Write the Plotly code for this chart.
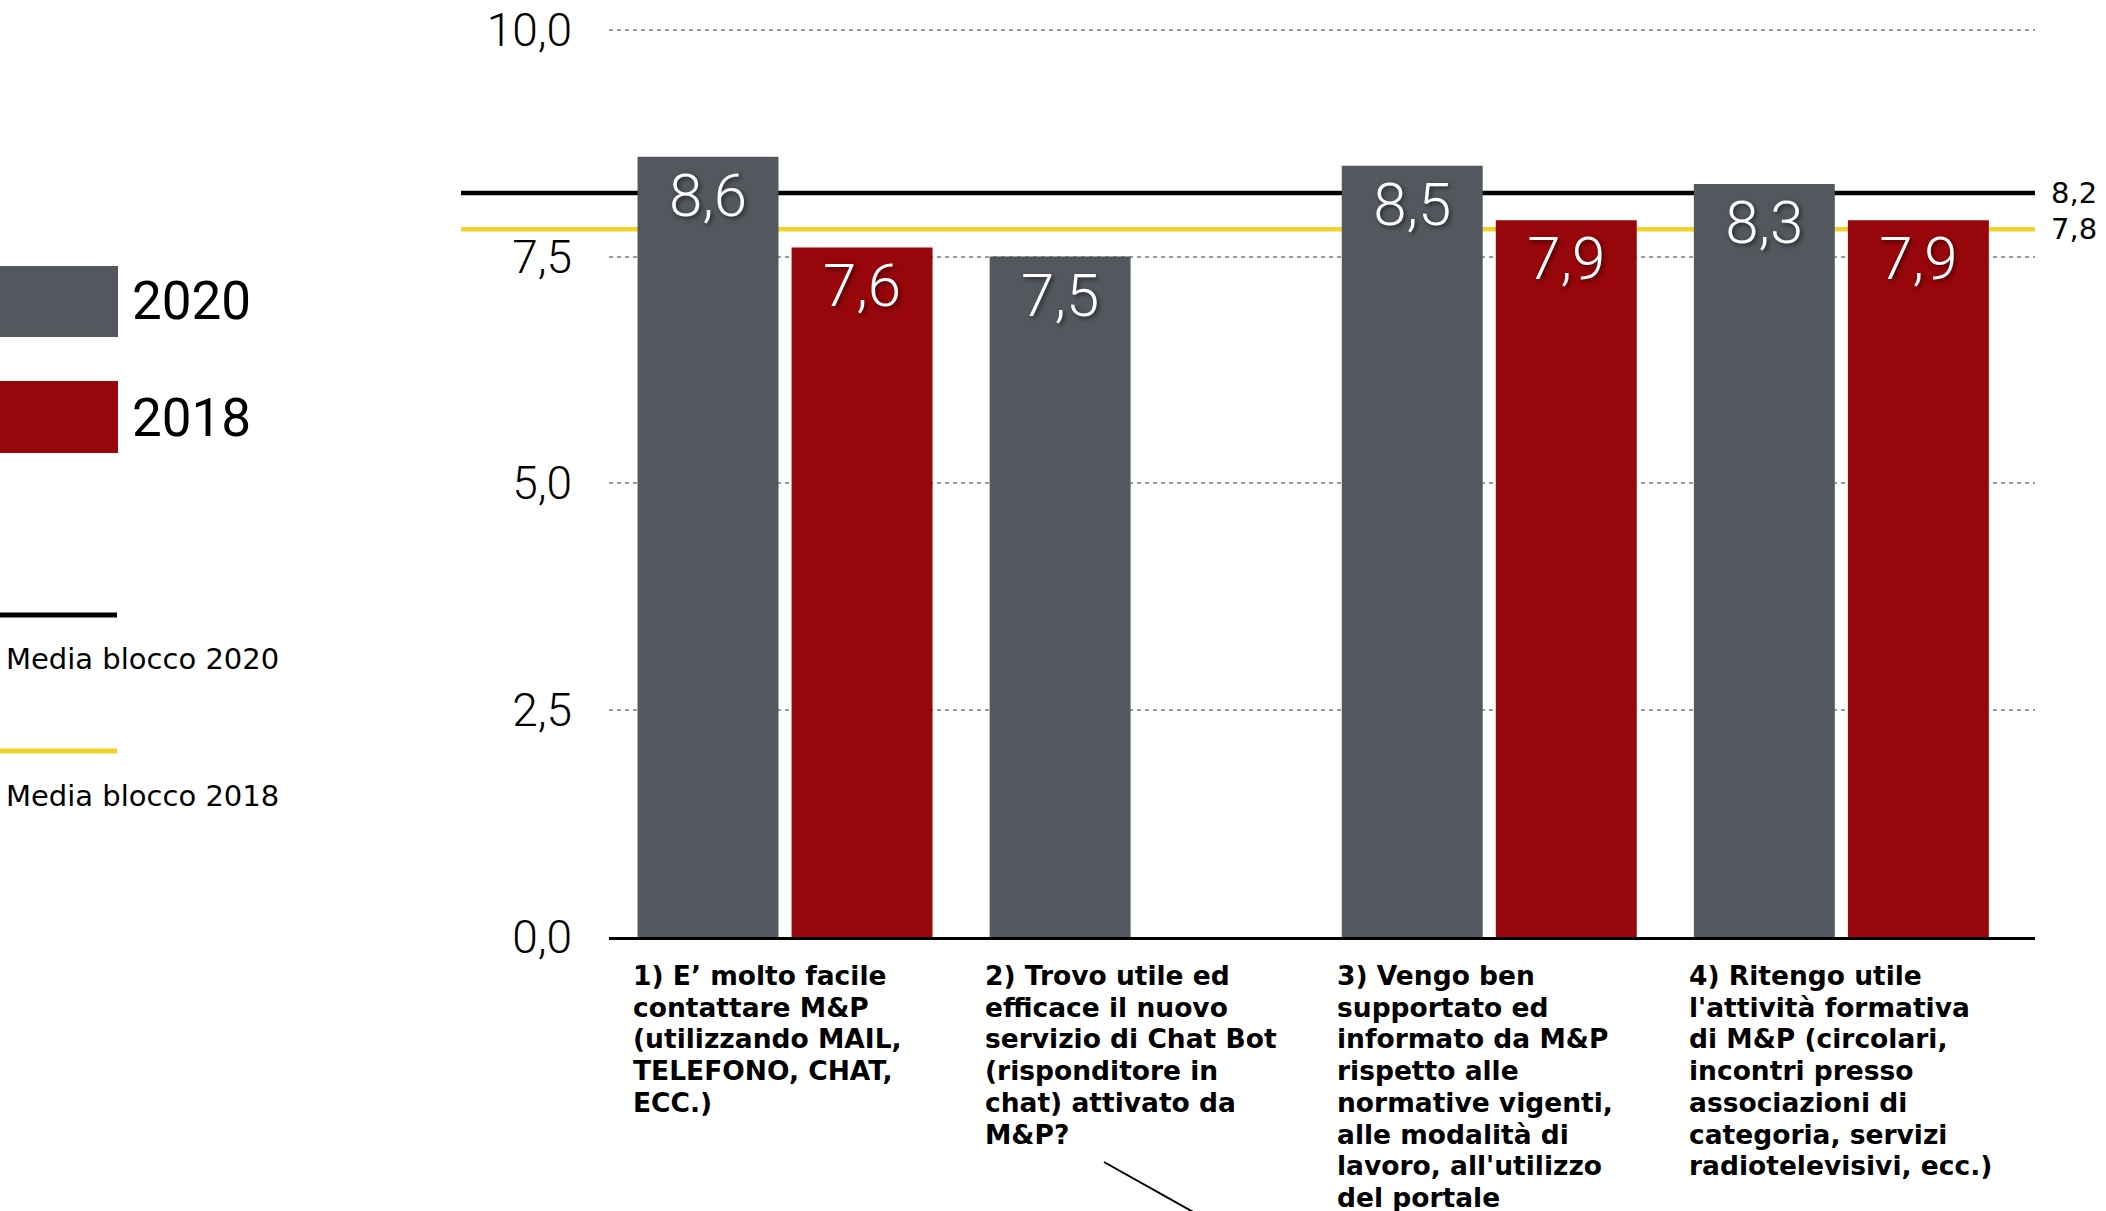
import plotly.graph_objects as go

# ---------------- data ----------------
categories = ["1)", "2)", "3)", "4)"]
values_2020 = [8.6, 7.5, 8.5, 8.3]
values_2018 = [7.6, None, 7.9, 7.9]
series_names = ["2020", "2018"]
mean_2020 = 8.2
mean_2018 = 7.8
mean_names = ["Media blocco 2020", "Media blocco 2018"]
y_ticks = [0, 2.5, 5, 7.5, 10]
category_labels = [
    ["1) E’ molto facile", "contattare M&P", "(utilizzando MAIL,", "TELEFONO, CHAT,", "ECC.)"],
    ["2) Trovo utile ed", "efficace il nuovo", "servizio di Chat Bot", "(risponditore in",
     "chat) attivato da", "M&P?"],
    ["3) Vengo ben", "supportato ed", "informato da M&P", "rispetto alle",
     "normative vigenti,", "alle modalità di", "lavoro, all'utilizzo", "del portale"],
    ["4) Ritengo utile", "l'attività formativa", "di M&P (circolari,", "incontri presso",
     "associazioni di", "categoria, servizi", "radiotelevisivi, ecc.)"],
]

# ---------------- styles ----------------
GRAY = "#53575E"
RED = "#97060A"
YELLOW = "#F3D22B"
W, H = 2106, 1211
L, R, T, B = 609, 71, 27, 274
PW, PH = W - L - R, H - T - B
Y_TOP = 10.03


def px_x(px):
    return (px - L) / PW


def px_y(py):
    return (H - B - py) / PH


bar_font = dict(family="Roboto", size=60, color="white", weight=300,
                shadow="2px 2px 4px rgba(0,0,0,0.55)")

fig = go.Figure()
fig.add_trace(go.Bar(
    x=categories, y=values_2020, name=series_names[0], marker_color=GRAY,
    marker_line_width=0,
    texttemplate="%{y:.1f}", textposition="inside", insidetextanchor="end",
    textangle=0, insidetextfont=bar_font, constraintext="none", hoverinfo="skip"))
fig.add_trace(go.Bar(
    x=categories, y=values_2018, name=series_names[1], marker_color=RED,
    marker_line_width=0,
    texttemplate="%{y:.1f}", textposition="inside", insidetextanchor="end",
    textangle=0, insidetextfont=bar_font, constraintext="none", hoverinfo="skip"))

shapes = []
annotations = []

# mean lines (behind bars)
for val, col in [(mean_2020, "black"), (mean_2018, YELLOW)]:
    shapes.append(dict(type="line", xref="paper", yref="y", x0=px_x(461), x1=1,
                       y0=val, y1=val, line=dict(color=col, width=4.5), layer="below"))
    annotations.append(dict(xref="paper", yref="y", x=px_x(2049), y=val,
                            xanchor="left", yanchor="middle", showarrow=False,
                            text=f"{val:.1f}".replace(".", ","),
                            font=dict(family="DejaVu Sans", size=29, color="black")))

# category labels (one annotation per line for tight line spacing)
for i, lines in enumerate(category_labels):
    for j, line in enumerate(lines):
        annotations.append(dict(xref="x", yref="y", x=i - 0.437, y=0,
                                xanchor="left", yanchor="top", showarrow=False,
                                yshift=-21 - 31.7 * j, align="left", text=line,
                                font=dict(family="DejaVu Sans", size=26.5,
                                          color="black", weight="bold")))

# legend swatches
for (name, col, top, bot, ty) in [(series_names[0], GRAY, 266, 337, 301),
                                  (series_names[1], RED, 381, 453, 418)]:
    shapes.append(dict(type="rect", xref="paper", yref="paper",
                       x0=px_x(-2), x1=px_x(118), y0=px_y(bot), y1=px_y(top),
                       fillcolor=col, line_width=0))
    annotations.append(dict(xref="paper", yref="paper", x=px_x(130), y=px_y(ty),
                            xanchor="left", yanchor="middle", showarrow=False,
                            text=name, font=dict(family="Roboto", size=53, color="black")))

for (name, col, ly, ty) in [(mean_names[0], "black", 615, 659),
                            (mean_names[1], YELLOW, 751, 796)]:
    shapes.append(dict(type="line", xref="paper", yref="paper",
                       x0=px_x(-2), x1=px_x(117), y0=px_y(ly), y1=px_y(ly),
                       line=dict(color=col, width=5)))
    annotations.append(dict(xref="paper", yref="paper", x=px_x(4), y=px_y(ty),
                            xanchor="left", yanchor="middle", showarrow=False,
                            text=name, font=dict(family="DejaVu Sans", size=29, color="black")))

# decorative pointer line at the bottom
shapes.append(dict(type="line", xref="paper", yref="paper",
                   x0=px_x(1104), y0=px_y(1162), x1=px_x(1195), y1=px_y(1213),
                   line=dict(color="black", width=2)))

fig.update_layout(
    width=W, height=H,
    margin=dict(l=L, r=R, t=T, b=B, pad=0, autoexpand=False),
    paper_bgcolor="white", plot_bgcolor="white",
    separators=",.",
    showlegend=False,
    barmode="group", bargap=0.125, bargroupgap=0.085,
    shapes=shapes, annotations=annotations,
    xaxis=dict(range=[-0.5, 3.55], showticklabels=False, showgrid=False,
               showline=True, linecolor="black", linewidth=3, ticks="",
               zeroline=False, fixedrange=True, automargin=False),
    yaxis=dict(range=[0, Y_TOP], tickvals=y_ticks, tickformat=".1f",
               showgrid=True, griddash="4px,4px", gridcolor="#9b9b9b", gridwidth=2,
               zeroline=False, showline=False, ticks="", ticklabelstandoff=36,
               tickfont=dict(family="Roboto", size=46, color="black", weight=300),
               fixedrange=True, automargin=False),
)

fig.write_html("out.html")
